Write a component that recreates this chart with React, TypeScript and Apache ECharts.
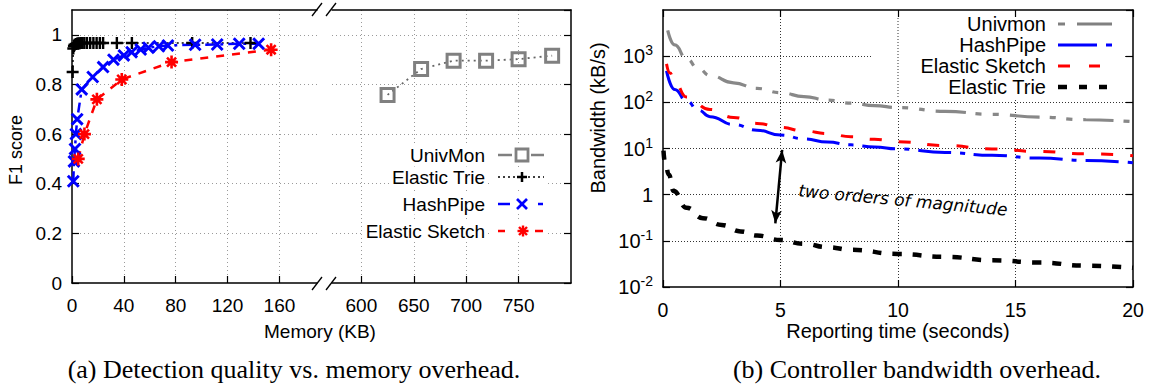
import React, { useEffect, useRef } from "react";
import * as echarts from "echarts";

// ---------- Panel (a): F1 score vs. memory (KB) ----------
const univmonMemKB = [625, 657, 688, 719, 750, 782];
const univmonF1 = [0.758, 0.862, 0.896, 0.896, 0.902, 0.916];

const trieMemKB = [0.5, 1, 1.5, 2, 3, 4, 5, 6, 7, 8, 9.5, 11.5, 14, 16.5, 19, 21.5, 24, 34.6, 46.2, 92.7, 137.7];
const trieF1 = [0.85, 0.945, 0.955, 0.96, 0.963, 0.965, 0.966, 0.966, 0.967, 0.967, 0.967, 0.967, 0.967, 0.967, 0.967, 0.967, 0.967, 0.967, 0.967, 0.967, 0.967];

const hashpipeMemKB = [1, 1.5, 2.3, 3, 4, 7.5, 16, 24, 32, 40, 46, 53, 59, 67, 74, 95, 112, 129, 144];
const hashpipeF1 = [0.41, 0.49, 0.54, 0.6, 0.66, 0.78, 0.83, 0.87, 0.9, 0.917, 0.93, 0.941, 0.948, 0.954, 0.957, 0.96, 0.961, 0.964, 0.964];

const sketchMemKB = [4.8, 9.6, 19.2, 38.4, 76.8, 153.6];
const sketchF1 = [0.5, 0.6, 0.74, 0.82, 0.89, 0.94];

// ---------- Panel (b): controller bandwidth (kB/s) vs. reporting time (s) ----------
const univmonTime = [0.2, 0.5, 1, 1.5, 2, 3, 4, 5, 6, 7, 8, 9, 10, 12, 14, 16, 18, 20];
const univmonBw = [3600, 1750, 880, 540, 380, 265, 200, 162, 133, 112, 96, 85, 77, 64, 55, 48, 42, 38];

const hashpipeTime = [0.15, 0.5, 1, 1.5, 2, 3, 4, 5, 6, 7, 8, 9, 10, 12, 14, 16, 18, 20];
const hashpipeBw = [480, 190, 108, 68, 49, 33, 25, 19.6, 16.2, 13.8, 12, 10.8, 9.8, 8.2, 7.1, 6.2, 5.5, 4.9];

const sketchTime = [0.15, 0.3, 0.5, 1, 2, 3, 4, 5, 6, 7, 8, 9, 10, 12, 14, 16, 18, 20];
const sketchBw = [680, 430, 270, 130, 70, 47, 35, 28.5, 24, 21, 18, 15.8, 14, 11.6, 9.8, 8.6, 7.7, 7];

const trieTime = [0.02, 0.1, 0.25, 0.45, 1, 1.7, 2.5, 3.3, 4, 5, 6, 7, 8, 10, 12, 14, 16, 18, 20];
const trieBw = [9, 4.5, 2.7, 1.2, 0.52, 0.31, 0.22, 0.16, 0.13, 0.104, 0.086, 0.073, 0.064, 0.052, 0.045, 0.038, 0.034, 0.029, 0.026];

const arrowTop = [5.07, 9.3];
const arrowBottom = [4.78, 0.24];

const legendA = ["UnivMon", "Elastic Trie", "HashPipe", "Elastic Sketch"];
const legendB = ["Univmon", "HashPipe", "Elastic Sketch", "Elastic Trie"];

const captionA = "(a) Detection quality vs. memory overhead.";
const captionB = "(b) Controller bandwidth overhead.";
const annotation = "two orders of magnitude";

// ---------- helpers ----------
const zip = (xs: number[], ys: number[]) => xs.map((x, i) => [x, ys[i]]);

const PLUS = "path://M4,0H6V4H10V6H6V10H4V6H0V4H4Z";
const CROSS = "path://M0,1.6L1.6,0L10,8.4L8.4,10ZM8.4,0L10,1.6L1.6,10L0,8.4Z";
const ASTER =
  "path://M4,0H6V4H10V6H6V10H4V6H0V4H4ZM0.8,2.2L2.2,0.8L9.2,7.8L7.8,9.2ZM7.8,0.8L9.2,2.2L2.2,9.2L0.8,7.8Z";

const SANS = "Liberation Sans";
const GRAY = "#808080";
const BLUE = "#0000ff";
const RED = "#ff0000";

const ln = (x1: number, y1: number, x2: number, y2: number, stroke: string, lineWidth: number, lineDash?: number[]) => ({
  type: "line",
  silent: true,
  z: 110,
  shape: { x1, y1, x2, y2 },
  style: { stroke, lineWidth, lineDash: lineDash || null, lineCap: "butt" },
});

const txt = (text: string, x: number, y: number, font: string, align = "right", extra: any = {}) => ({
  type: "text",
  silent: true,
  z: 110,
  x,
  y,
  style: { text, font, fill: "#000", align, verticalAlign: "middle", ...extra },
});

const plusMark = (cx: number, cy: number, c: string, s = 5, w = 2.5) => [
  ln(cx - s, cy, cx + s, cy, c, w),
  ln(cx, cy - s, cx, cy + s, c, w),
];
const crossMark = (cx: number, cy: number, c: string, s = 5, w = 2.6) => [
  ln(cx - s, cy - s, cx + s, cy + s, c, w),
  ln(cx - s, cy + s, cx + s, cy - s, c, w),
];

const axisLineStyle = { show: true, onZero: false, lineStyle: { color: "#000", width: 1.5 } };
const tickIn = { show: true, inside: true, length: 7, lineStyle: { color: "#000", width: 1.2 } };
const gridLineA = { show: true, showMinLine: false, showMaxLine: false, lineStyle: { color: "#9a9a9a", width: 1, type: [1, 3] } };
const gridLineB = { show: true, showMinLine: false, showMaxLine: false, lineStyle: { color: "#333", width: 1, type: [1, 2] } };

function buildOption() {
  const legendAY = [155, 177, 204, 231];
  const legendBY = [24, 45, 66, 87];

  const graphic: any[] = [];

  // axis break marks between the two x segments of panel (a)
  [
    [312, 16, 322, 3],
    [326, 16, 336, 3],
    [312, 290, 322, 277],
    [326, 290, 336, 277],
  ].forEach(([a, b, c, d]) => graphic.push(ln(a, b, c, d, "#000", 1.3)));

  // axis titles
  graphic.push({
    type: "text", silent: true, z: 110, x: 16, y: 150, rotation: Math.PI / 2,
    style: { text: "F1 score", font: `18px "${SANS}"`, fill: "#000", align: "center", verticalAlign: "middle" },
  });
  graphic.push(txt("Memory (KB)", 320, 331, `19px "${SANS}"`, "center"));
  graphic.push({
    type: "text", silent: true, z: 110, x: 598, y: 118, rotation: Math.PI / 2,
    style: { text: "Bandwidth (kB/s)", font: `20px "${SANS}"`, fill: "#000", align: "center", verticalAlign: "middle" },
  });
  graphic.push(txt("Reporting time (seconds)", 898, 331, `20px "${SANS}"`, "center"));

  // legend of panel (a)
  legendA.forEach((name, i) => {
    const y = legendAY[i];
    graphic.push({ type: "rect", silent: true, z: 105, shape: { x: 492, y: y - 10, width: 54, height: 20 }, style: { fill: "#fff" } });
    graphic.push(txt(name, 487, y, `19px "${SANS}"`, "right", { backgroundColor: "#fff", padding: [1, 2] }));
  });
  // UnivMon
  graphic.push(ln(498, legendAY[0], 512, legendAY[0], GRAY, 2.5));
  graphic.push(ln(531, legendAY[0], 544, legendAY[0], GRAY, 2.5));
  graphic.push({
    type: "rect", silent: true, z: 111, shape: { x: 516, y: legendAY[0] - 6, width: 12, height: 12 },
    style: { fill: "none", stroke: GRAY, lineWidth: 2.8 },
  });
  // Elastic Trie
  graphic.push(ln(498, legendAY[1], 544, legendAY[1], "#000", 1.6, [2, 3]));
  graphic.push(...plusMark(522, legendAY[1], "#000"));
  // HashPipe
  graphic.push(ln(498, legendAY[2], 510, legendAY[2], BLUE, 2.5));
  graphic.push(ln(538, legendAY[2], 543, legendAY[2], BLUE, 2.5));
  graphic.push(...crossMark(522, legendAY[2], BLUE));
  // Elastic Sketch
  graphic.push(ln(498, legendAY[3], 505, legendAY[3], RED, 2.5));
  graphic.push(ln(535, legendAY[3], 543, legendAY[3], RED, 2.5));
  graphic.push(...plusMark(523, legendAY[3], RED, 5.5, 2.4));
  graphic.push(...crossMark(523, legendAY[3], RED, 4, 2.4));

  // legend of panel (b): opaque key box; the t=10 grid line stays visible through it
  graphic.push({ type: "rect", silent: true, z: 105, shape: { x: 873, y: 18, width: 252, height: 80 }, style: { fill: "#fff" } });
  graphic.push(ln(898, 18, 898, 98, "#333", 1, [1, 2]));
  legendB.forEach((name, i) => graphic.push(txt(name, 1046, legendBY[i], `20px "${SANS}"`, "right")));
  graphic.push(ln(1058, legendBY[0], 1065, legendBY[0], GRAY, 3));
  graphic.push(ln(1077, legendBY[0], 1112, legendBY[0], GRAY, 3));
  graphic.push(ln(1058, legendBY[1], 1097, legendBY[1], BLUE, 3));
  graphic.push(ln(1106, legendBY[1], 1112, legendBY[1], BLUE, 3));
  graphic.push(ln(1058, legendBY[2], 1070, legendBY[2], RED, 3));
  graphic.push(ln(1089, legendBY[2], 1100, legendBY[2], RED, 3));
  graphic.push(ln(1058, legendBY[3], 1067, legendBY[3], "#000", 4.5));
  graphic.push(ln(1079, legendBY[3], 1087, legendBY[3], "#000", 4.5));
  graphic.push(ln(1099, legendBY[3], 1107, legendBY[3], "#000", 4.5));

  // annotation
  graphic.push({
    type: "text", silent: true, z: 110, x: 903, y: 200, rotation: -0.092,
    style: { text: annotation, font: `italic 17px "DejaVu Sans"`, fill: "#000", align: "center", verticalAlign: "middle" },
  });

  // captions
  graphic.push(txt(captionA, 294, 369, `26px "Liberation Serif"`, "center"));
  graphic.push(txt(captionB, 917, 369, `26px "Liberation Serif"`, "center"));

  const labelA = { fontFamily: SANS, fontSize: 19, color: "#000" };
  const labelB = { fontFamily: SANS, fontSize: 19.5, color: "#000" };

  return {
    animation: false,
    backgroundColor: "#fff",
    grid: [
      { left: 72, top: 10, width: 245, height: 273 },
      { left: 332, top: 10, width: 239, height: 273 },
      { left: 663, top: 10, width: 470, height: 277 },
    ],
    xAxis: [
      {
        type: "value", gridIndex: 0, position: "bottom", min: 0, max: 189, interval: 40,
        axisLine: axisLineStyle, axisTick: tickIn,
        axisLabel: { ...labelA, margin: 13, showMaxLabel: false },
        splitLine: gridLineA,
      },
      {
        type: "value", gridIndex: 0, position: "top", min: 0, max: 189, interval: 40,
        axisLine: axisLineStyle, axisTick: { show: false }, axisLabel: { show: false }, splitLine: { show: false },
      },
      {
        type: "value", gridIndex: 1, position: "bottom", min: 572, max: 800, minInterval: 50, maxInterval: 50,
        axisLine: axisLineStyle, axisTick: tickIn,
        axisLabel: { ...labelA, margin: 13, showMinLabel: false, showMaxLabel: false },
        splitLine: gridLineA,
      },
      {
        type: "value", gridIndex: 1, position: "top", min: 572, max: 800, minInterval: 50, maxInterval: 50,
        axisLine: axisLineStyle, axisTick: { show: false }, axisLabel: { show: false }, splitLine: { show: false },
      },
      {
        type: "value", gridIndex: 2, position: "bottom", min: 0, max: 20, interval: 5,
        axisLine: axisLineStyle, axisTick: tickIn,
        axisLabel: { ...labelB, margin: 13 },
        splitLine: gridLineB,
      },
      {
        type: "value", gridIndex: 2, position: "top", min: 0, max: 20, interval: 5,
        axisLine: axisLineStyle, axisTick: tickIn, axisLabel: { show: false }, splitLine: { show: false },
      },
    ],
    yAxis: [
      {
        type: "value", gridIndex: 0, position: "left", min: 0, max: 1.1, interval: 0.2,
        axisLine: axisLineStyle, axisTick: tickIn,
        axisLabel: { ...labelA, margin: 10, showMaxLabel: false },
        splitLine: gridLineA,
      },
      {
        type: "value", gridIndex: 1, position: "right", min: 0, max: 1.1, interval: 0.2,
        axisLine: axisLineStyle, axisTick: tickIn, axisLabel: { show: false },
        splitLine: gridLineA,
      },
      {
        type: "log", logBase: 10, gridIndex: 2, position: "left", min: 0.01, max: 10000,
        axisLine: axisLineStyle, axisTick: tickIn, minorTick: { show: false },
        axisLabel: {
          margin: 10,
          showMaxLabel: false,
          formatter: (v: number) => {
            const e = Math.round(Math.log10(v));
            return e === 0 ? "{n|1}" : `{n|10}{s|${e}}`;
          },
          rich: {
            n: { fontFamily: SANS, fontSize: 20, color: "#000", lineHeight: 26 },
            s: { fontFamily: SANS, fontSize: 14, color: "#000", lineHeight: 14, verticalAlign: "top" },
          },
        },
        splitLine: gridLineB,
      },
      {
        type: "log", logBase: 10, gridIndex: 2, position: "right", min: 0.01, max: 10000,
        axisLine: axisLineStyle, axisTick: tickIn, axisLabel: { show: false }, splitLine: { show: false },
        minorTick: { show: false },
      },
    ],
    series: [
      {
        name: "UnivMon", type: "line", xAxisIndex: 2, yAxisIndex: 1, data: zip(univmonMemKB, univmonF1),
        symbol: "rect", symbolSize: 13,
        itemStyle: { color: "rgba(255,255,255,0)", borderColor: GRAY, borderWidth: 3 },
        lineStyle: { color: "#666", width: 1.8, type: [2, 4] }, silent: true,
      },
      {
        name: "Elastic Trie", type: "line", xAxisIndex: 0, yAxisIndex: 0, data: zip(trieMemKB, trieF1),
        symbol: PLUS, symbolSize: 12, itemStyle: { color: "#000" },
        lineStyle: { color: "#000", width: 1.5, type: [2, 3] }, silent: true,
      },
      {
        name: "HashPipe", type: "line", xAxisIndex: 0, yAxisIndex: 0, data: zip(hashpipeMemKB, hashpipeF1),
        symbol: CROSS, symbolSize: 13, itemStyle: { color: BLUE },
        lineStyle: { color: BLUE, width: 2.5, type: [10, 5, 3, 5] }, silent: true,
      },
      {
        name: "Elastic Sketch", type: "line", xAxisIndex: 0, yAxisIndex: 0, data: zip(sketchMemKB, sketchF1),
        symbol: ASTER, symbolSize: 13, itemStyle: { color: RED },
        lineStyle: { color: RED, width: 2.5, type: [8, 8] }, silent: true,
      },
      {
        name: "Univmon", type: "line", xAxisIndex: 4, yAxisIndex: 2, data: zip(univmonTime, univmonBw),
        showSymbol: false, smooth: true, smoothMonotone: "x",
        lineStyle: { color: "#888", width: 3.2, type: [30, 10, 6, 11, 6, 11] }, silent: true,
      },
      {
        name: "HashPipe", type: "line", xAxisIndex: 4, yAxisIndex: 2, data: zip(hashpipeTime, hashpipeBw),
        showSymbol: false, smooth: true, smoothMonotone: "x",
        lineStyle: { color: BLUE, width: 3, type: [33, 9, 5, 9] }, silent: true,
      },
      {
        name: "Elastic Sketch", type: "line", xAxisIndex: 4, yAxisIndex: 2, data: zip(sketchTime, sketchBw),
        showSymbol: false, smooth: true, smoothMonotone: "x",
        lineStyle: { color: RED, width: 3, type: [12, 17] }, silent: true,
      },
      {
        name: "Elastic Trie", type: "line", xAxisIndex: 4, yAxisIndex: 2, data: zip(trieTime, trieBw),
        showSymbol: false, smooth: true, smoothMonotone: "x",
        lineStyle: { color: "#000", width: 4.5, type: [9, 11] }, silent: true,
        markLine: {
          silent: true, symbol: ["arrow", "arrow"], symbolSize: [8, 13],
          label: { show: false },
          lineStyle: { color: "#000", width: 2.5, type: "solid" },
          data: [[{ coord: arrowTop }, { coord: arrowBottom }]],
        },
      },
    ],
    graphic,
  };
}

export default function App() {
  const ref = useRef<HTMLDivElement>(null);
  useEffect(() => {
    document.body.style.margin = "0";
    const chart = echarts.init(ref.current!, null, { renderer: "svg" });
    chart.setOption(buildOption() as any);
    return () => chart.dispose();
  }, []);
  return <div ref={ref} style={{ width: 1157, height: 389 }} />;
}
